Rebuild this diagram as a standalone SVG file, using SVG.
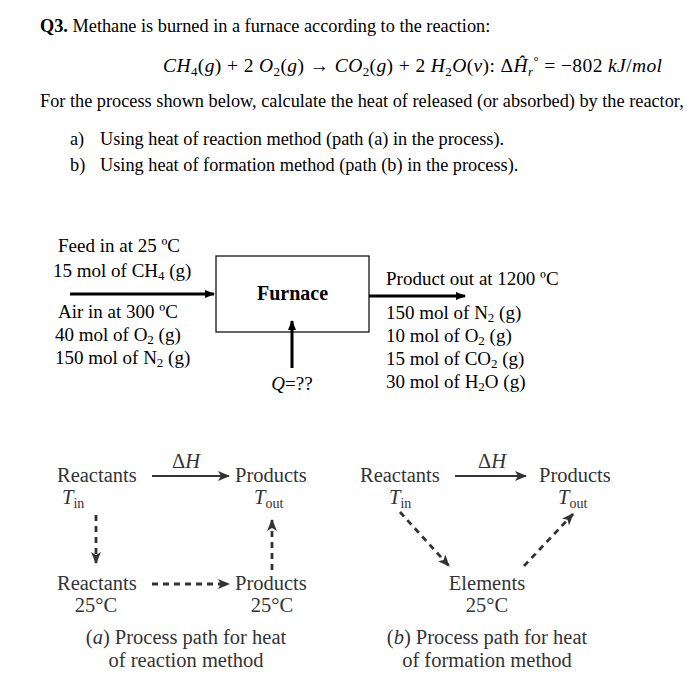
<svg xmlns="http://www.w3.org/2000/svg" width="695" height="680" viewBox="0 0 695 680">
<style>
text{font-family:"Liberation Serif","Times New Roman",serif;fill:#000}
.q{font-size:18.3px}
.t{font-size:19px}
.m{font-size:19.5px;font-style:italic}
.g{font-size:20.5px;fill:#333}
.gi{font-style:italic}
.sub{font-size:13px}
.gsub{font-size:14px}
.ln{stroke:#000;stroke-width:3;fill:none}
.gl{stroke:#333;stroke-width:2.2;fill:none}
.gd{stroke:#333;stroke-width:2.8;fill:none;stroke-dasharray:6,5}
</style>
<defs>
<marker id="ah" markerWidth="10" markerHeight="8" refX="9" refY="4" orient="auto" markerUnits="userSpaceOnUse"><path d="M0,0 L10,4 L0,8 Z" fill="#000"/></marker>
<marker id="gh" markerWidth="12" markerHeight="10" refX="11" refY="5" orient="auto" markerUnits="userSpaceOnUse"><path d="M0,0 L12,5 L0,10 L3,5 Z" fill="#333"/></marker>
</defs>

<g id="question">
<text class="q" x="40" y="32"><tspan font-weight="bold">Q3.</tspan> Methane is burned in a furnace according to the reaction:</text>
<text class="m" x="163" y="72" textLength="499" lengthAdjust="spacing">CH<tspan class="sub" font-style="normal" dy="4">4</tspan><tspan dy="-4" font-style="normal">(</tspan>g<tspan font-style="normal">) + 2 </tspan>O<tspan class="sub" font-style="normal" dy="4">2</tspan><tspan dy="-4" font-style="normal">(</tspan>g<tspan font-style="normal">) → </tspan>CO<tspan class="sub" font-style="normal" dy="4">2</tspan><tspan dy="-4" font-style="normal">(</tspan>g<tspan font-style="normal">) + 2 </tspan>H<tspan class="sub" font-style="normal" dy="4">2</tspan><tspan dy="-4">O</tspan><tspan font-style="normal">(</tspan>v<tspan font-style="normal">):   Δ</tspan>Ĥ<tspan class="sub" dy="4">r</tspan><tspan class="sub" font-style="normal" dy="-11">°</tspan><tspan font-style="normal" dy="7"> = −802 </tspan>kJ<tspan font-style="normal">/</tspan>mol</text>
<text class="q" x="40" y="107">For the process shown below, calculate the heat of released (or absorbed) by the reactor,</text>
<text class="q" x="70" y="145">a)</text>
<text class="q" x="100" y="145">Using heat of reaction method (path (a) in the process).</text>
<text class="q" x="70" y="171">b)</text>
<text class="q" x="100" y="171">Using heat of formation method (path (b) in the process).</text>
</g>

<g id="feed">
<text class="t" x="58" y="252">Feed in at 25 ºC</text>
<text class="t" x="53" y="277">15 mol of CH<tspan class="sub" dy="3">4</tspan><tspan dy="-3"> (g)</tspan></text>
</g>
<g id="air">
<text class="t" x="58" y="318">Air in at 300 ºC</text>
<text class="t" x="55" y="341">40 mol of O<tspan class="sub" dy="3">2</tspan><tspan dy="-3"> (g)</tspan></text>
<text class="t" x="55" y="364">150 mol of N<tspan class="sub" dy="3">2</tspan><tspan dy="-3"> (g)</tspan></text>
</g>
<g id="furnace">
<rect x="216" y="256" width="153" height="76" fill="#fff" stroke="#000" stroke-width="1.2"/>
<text x="292.5" y="300" text-anchor="middle" font-size="20" font-weight="bold">Furnace</text>
</g>
<g id="heat">
<text class="t" x="292" y="390" text-anchor="middle"><tspan font-style="italic">Q</tspan>=??</text>
</g>
<g id="product">
<text class="t" x="386" y="285">Product out at 1200 ºC</text>
<text class="t" x="386" y="319">150 mol of N<tspan class="sub" dy="3">2</tspan><tspan dy="-3"> (g)</tspan></text>
<text class="t" x="386" y="342">10 mol of O<tspan class="sub" dy="3">2</tspan><tspan dy="-3"> (g)</tspan></text>
<text class="t" x="386" y="365">15 mol of CO<tspan class="sub" dy="3">2</tspan><tspan dy="-3"> (g)</tspan></text>
<text class="t" x="386" y="388">30 mol of H<tspan class="sub" dy="3">2</tspan><tspan dy="-3">O (g)</tspan></text>
</g>

<g id="pathA">
<text class="g" x="57" y="482">Reactants</text>
<text class="g" x="62" y="504"><tspan class="gi">T</tspan><tspan class="gsub" dy="4">in</tspan></text>
<text class="g" x="235" y="482">Products</text>
<text class="g" x="254" y="504"><tspan class="gi">T</tspan><tspan class="gsub" dy="4">out</tspan></text>
<text class="g" x="186" y="468" text-anchor="middle">Δ<tspan class="gi">H</tspan></text>
<text class="g" x="57" y="590">Reactants</text>
<text class="g" x="96" y="612" text-anchor="middle">25°C</text>
<text class="g" x="235" y="590">Products</text>
<text class="g" x="272" y="612" text-anchor="middle">25°C</text>
<text class="g" x="186" y="644" text-anchor="middle">(<tspan class="gi">a</tspan>) Process path for heat</text>
<text class="g" x="186" y="667" text-anchor="middle">of reaction method</text>
</g>

<g id="pathB">
<text class="g" x="360" y="482">Reactants</text>
<text class="g" x="389" y="504"><tspan class="gi">T</tspan><tspan class="gsub" dy="4">in</tspan></text>
<text class="g" x="539" y="482">Products</text>
<text class="g" x="558" y="504"><tspan class="gi">T</tspan><tspan class="gsub" dy="4">out</tspan></text>
<text class="g" x="492" y="468" text-anchor="middle">Δ<tspan class="gi">H</tspan></text>
<text class="g" x="487" y="590" text-anchor="middle">Elements</text>
<text class="g" x="487" y="612" text-anchor="middle">25°C</text>
<text class="g" x="487" y="644" text-anchor="middle">(<tspan class="gi">b</tspan>) Process path for heat</text>
<text class="g" x="487" y="667" text-anchor="middle">of formation method</text>
</g>

<g id="connectors">
<line class="ln" x1="70" y1="294" x2="214" y2="294" marker-end="url(#ah)"/>
<line class="ln" x1="369" y1="296" x2="465" y2="296" marker-end="url(#ah)"/>
<line class="ln" x1="292" y1="368" x2="292" y2="321" marker-end="url(#ah)"/>
<line class="gl" x1="152" y1="476" x2="229" y2="476" marker-end="url(#gh)"/>
<line class="gd" x1="96" y1="515" x2="96" y2="563" marker-end="url(#gh)"/>
<line class="gd" x1="152" y1="584" x2="229" y2="584" marker-end="url(#gh)"/>
<line class="gd" x1="272" y1="570" x2="272" y2="520" marker-end="url(#gh)"/>
<line class="gl" x1="455" y1="476" x2="526" y2="476" marker-end="url(#gh)"/>
<line class="gd" x1="400" y1="512" x2="449" y2="566" marker-end="url(#gh)"/>
<line class="gd" x1="524" y1="566" x2="573" y2="514" marker-end="url(#gh)"/>
</g>
</svg>
